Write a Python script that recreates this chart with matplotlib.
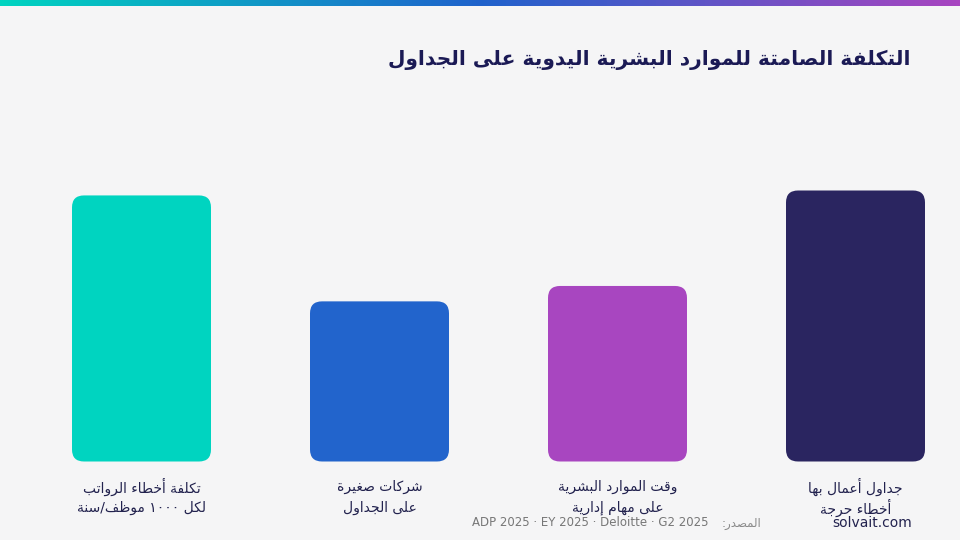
import numpy as np
import matplotlib
matplotlib.use('Agg')
import matplotlib.pyplot as plt
from matplotlib.patches import FancyBboxPatch
from matplotlib.colors import LinearSegmentedColormap

# data (logical RTL order: first item is drawn on the right)
labels_l1 = ['جداول أعمال بها', 'وقت الموارد البشرية', 'شركات صغيرة', 'تكلفة أخطاء الرواتب']
labels_l2 = ['أخطاء حرجة', 'على مهام إدارية', 'على الجداول', 'لكل ١٠٠٠ موظف/سنة']
values = [88, 57, 52, 86.4]   # relative heights
colors = ['#2a2560', '#a846c0', '#2264cc', '#00d4c0']
title = 'التكلفة الصامتة للموارد البشرية اليدوية على الجداول'
source_ar = 'المصدر:'
source_lat = 'ADP 2025 · EY 2025 · Deloitte · G2 2025'
site = 'solvait.com'


# --- tiny arabic shaper (no arabic_reshaper available) ---
FOUR = {0x0626: 0xFE89, 0x0628: 0xFE8F, 0x062A: 0xFE95, 0x062B: 0xFE99, 0x062C: 0xFE9D,
        0x062D: 0xFEA1, 0x062E: 0xFEA5, 0x0633: 0xFEB1, 0x0634: 0xFEB5, 0x0635: 0xFEB9,
        0x0636: 0xFEBD, 0x0637: 0xFEC1, 0x0638: 0xFEC5, 0x0639: 0xFEC9, 0x063A: 0xFECD,
        0x0641: 0xFED1, 0x0642: 0xFED5, 0x0643: 0xFED9, 0x0644: 0xFEDD, 0x0645: 0xFEE1,
        0x0646: 0xFEE5, 0x0647: 0xFEE9, 0x064A: 0xFEF1}
TWO = {0x0622: 0xFE81, 0x0623: 0xFE83, 0x0624: 0xFE85, 0x0625: 0xFE87, 0x0627: 0xFE8D,
       0x0629: 0xFE93, 0x062F: 0xFEA9, 0x0630: 0xFEAB, 0x0631: 0xFEAD, 0x0632: 0xFEAF,
       0x0648: 0xFEED, 0x0649: 0xFEEF}
ONE = {0x0621: 0xFE80}
LAMALEF = {0x0622: 0xFEF5, 0x0623: 0xFEF7, 0x0625: 0xFEF9, 0x0627: 0xFEFB}


def is_ar(c):
    o = ord(c)
    return o in FOUR or o in TWO or o in ONE


def shape(s):
    chars = list(s)
    out = []
    i = 0
    n = len(chars)
    while i < n:
        c = chars[i]
        o = ord(c)
        if not is_ar(c):
            out.append(c)
            i += 1
            continue
        prev_joins = i > 0 and ord(chars[i - 1]) in FOUR
        # lam-alef ligature
        if o == 0x0644 and i + 1 < n and ord(chars[i + 1]) in LAMALEF:
            base = LAMALEF[ord(chars[i + 1])]
            out.append(chr(base + (1 if prev_joins else 0)))
            i += 2
            continue
        next_ar = i + 1 < n and is_ar(chars[i + 1])
        if o in FOUR:
            base = FOUR[o]
            if prev_joins and next_ar:
                f = base + 3
            elif prev_joins:
                f = base + 1
            elif next_ar:
                f = base + 2
            else:
                f = base
        elif o in TWO:
            f = TWO[o] + (1 if prev_joins else 0)
        else:
            f = ONE[o]
        out.append(chr(f))
        i += 1
    # visual order: reverse, but keep digit runs left-to-right
    runs = []
    for ch in out:
        d = ch.isdigit()
        if runs and d and runs[-1][0]:
            runs[-1][1].append(ch)
        else:
            runs.append([d, [ch]])
    return ''.join(''.join(r[1]) for r in reversed(runs))


plt.rcParams['font.family'] = ['DejaVu Sans']

W, H = 960, 540
fig = plt.figure(figsize=(W / 100, H / 100), dpi=100)
fig.patch.set_facecolor('#f5f5f6')

# top gradient stripe
band = fig.add_axes([0, 1 - 6 / H, 1, 6 / H])
grad = np.linspace(0, 1, 256).reshape(1, -1)
cmap = LinearSegmentedColormap.from_list('g', ['#00d4c0', '#1f62cc', '#a845c0'])
band.imshow(grad, aspect='auto', cmap=cmap)
band.axis('off')

# bar axes
step = 238.0
unit = 271 / 88.0
ax_h = 100 * unit
ax = fig.add_axes([22.5 / W, (H - 461.5) / H, 4 * step / W, ax_h / H])
ax.set_facecolor('none')
x = np.arange(len(values))
bw = 139 / step
bars = ax.bar(x, values, width=bw, color=colors)
ax.set_xlim(3.5, -0.5)
ax.set_ylim(0, 100)
ax.axis('off')

# replace square bars with rounded ones
r_px = 12
aspect = (1 / unit) / (1 / step)
for b in bars:
    fb = FancyBboxPatch((b.get_x(), b.get_y()), b.get_width(), b.get_height(),
                        boxstyle='round,pad=0,rounding_size=%f' % (r_px / step),
                        mutation_aspect=aspect, fc=b.get_facecolor(), ec='none')
    b.remove()
    ax.add_patch(fb)

# category labels (offsets in points: 26px and 47px below the bar base)
for i in range(len(values)):
    ax.annotate(shape(labels_l1[i]), (x[i], 0), xytext=(0, -18.5), textcoords='offset points',
                ha='center', va='center', fontsize=10, color='#22224e')
    ax.annotate(shape(labels_l2[i]), (x[i], 0), xytext=(0, -33.5), textcoords='offset points',
                ha='center', va='center', fontsize=10, color='#22224e')

fig.text(910 / W, 1 - 60 / H, shape(title), ha='right', va='center',
         fontsize=14.5, fontweight='bold', color='#1b1a55')
fig.text(761 / W, 1 - 523 / H, shape(source_ar), ha='right', va='center',
         fontsize=8.5, color='#8a8a8a')
fig.text(708 / W, 1 - 523 / H, source_lat, ha='right', va='center',
         fontsize=8.5, color='#777777')
fig.text(912 / W, 1 - 523 / H, site, ha='right', va='center',
         fontsize=10, color='#22224e')

fig.savefig('out.png', dpi=100, facecolor=fig.get_facecolor())
